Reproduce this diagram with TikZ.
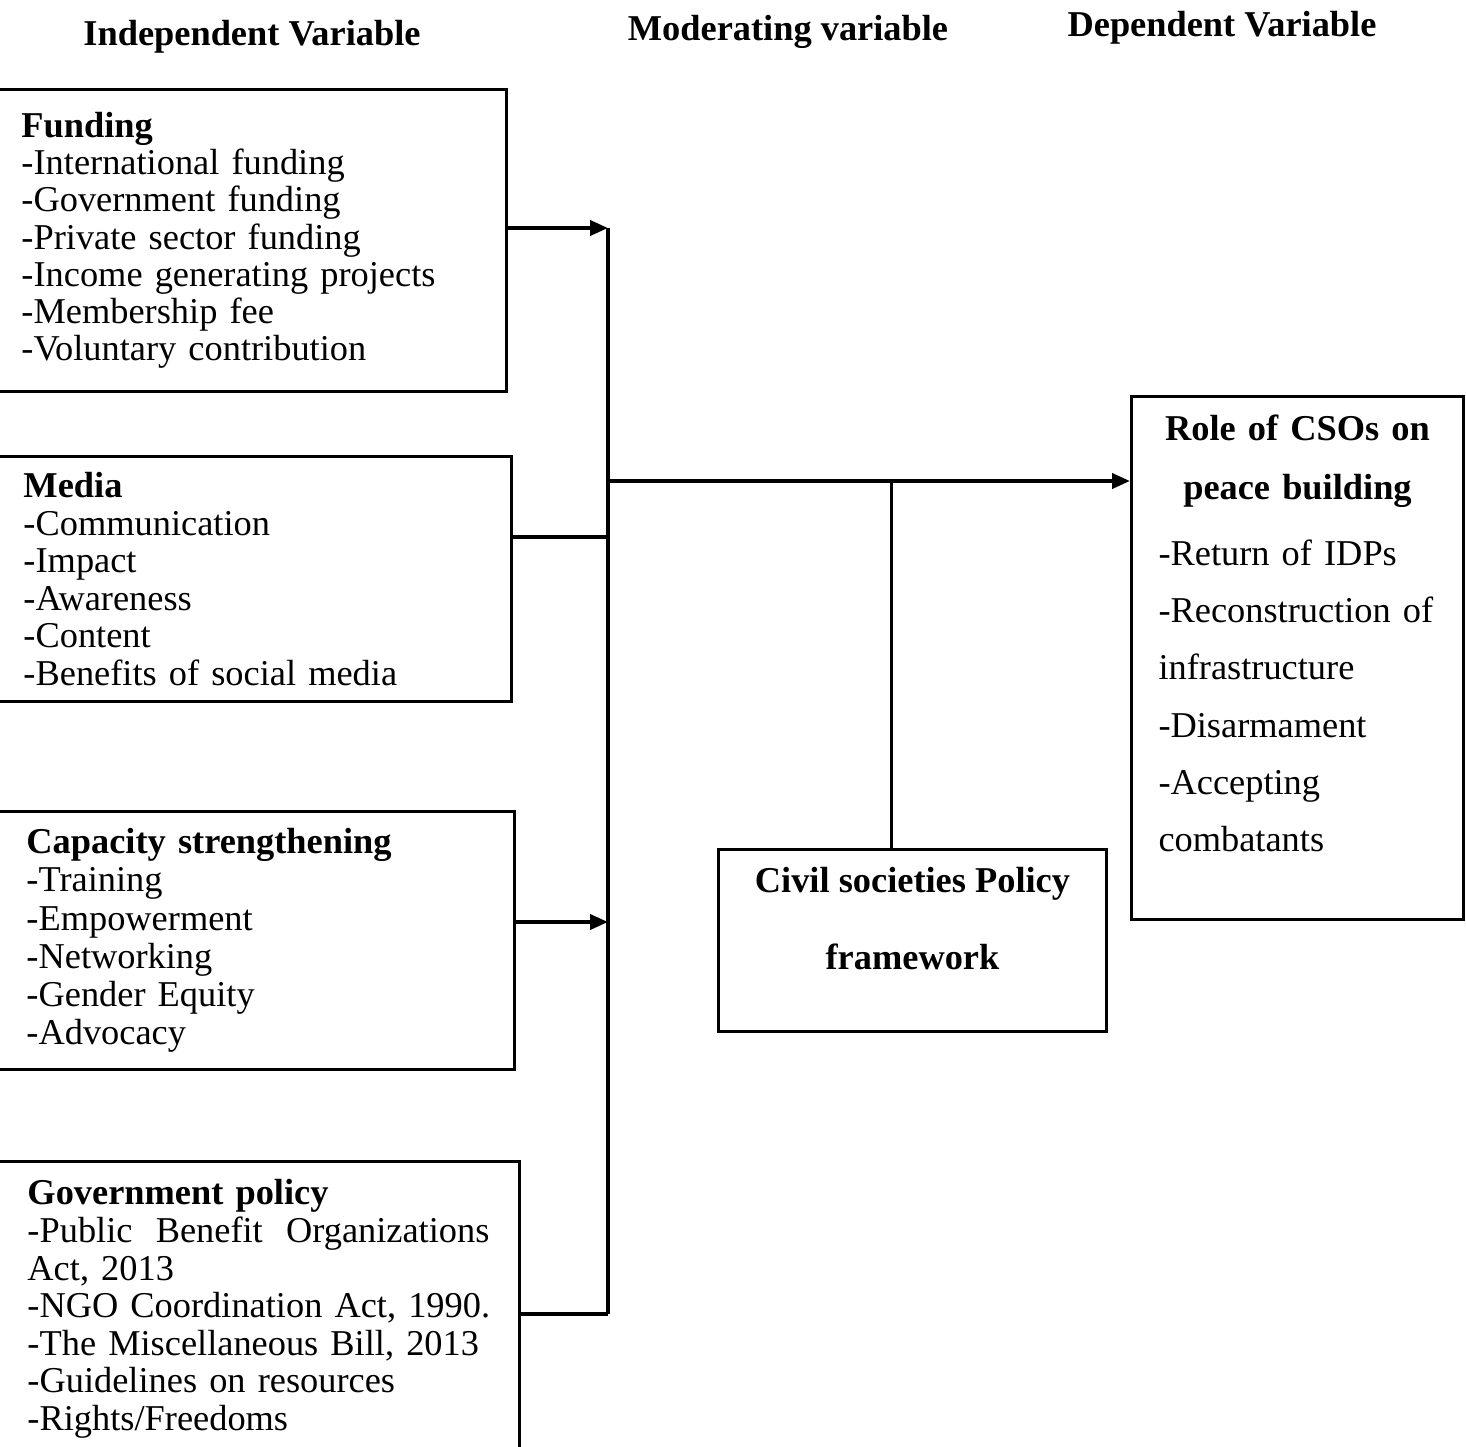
\documentclass[tikz,border=0pt]{standalone}
\usepackage{fontspec}
\setmainfont{Liberation Serif}
\usetikzlibrary{arrows.meta,positioning}
\tikzset{every node/.style={align=left}}

\begin{document}
\begin{tikzpicture}[x=0.02cm,y=-0.02cm,>={Triangle[length=0.36cm,width=0.3cm]},line width=2.2pt,
  head/.style={font=\fontsize{20.7}{24}\selectfont\bfseries,align=center},
  ivbox/.style={draw,line width=1.7pt,anchor=north west,align=left,font=\fontsize{20.7}{21.4}\selectfont}]
\clip (0,0) rectangle (1466,1446);

\node[head] (indep) at (252,37) {Independent Variable};
\node[head] (moder) at (788,32) {Moderating variable};
\node[head] (depen) at (1222,28) {Dependent Variable};

\node[ivbox,font=\fontsize{20.7}{21.2}\selectfont,minimum width=10.18cm,minimum height=6.04cm,text width=9.22cm,inner xsep=0.48cm] (fund) at (-4,88)
  {\textbf{Funding}\\-International funding\\-Government funding\\-Private sector funding\\-Income generating projects\\-Membership fee\\-Voluntary contribution};
\node[ivbox,minimum width=10.28cm,minimum height=4.9cm,text width=9.24cm,inner xsep=0.52cm] (media) at (-4,455)
  {\textbf{Media}\\-Communication\\-Impact\\-Awareness\\-Content\\-Benefits of social media};
\node[ivbox,font=\fontsize{20.7}{21.8}\selectfont,minimum width=10.34cm,minimum height=5.16cm,text width=9.18cm,inner xsep=0.58cm] (capac) at (-4,810)
  {\textbf{Capacity strengthening}\\-Training\\-Empowerment\\-Networking\\-Gender Equity\\-Advocacy};
\node[ivbox,minimum width=10.44cm,minimum height=5.9cm,text width=9.24cm,inner xsep=0.6cm] (govpol) at (-4,1160)
  {\textbf{Government policy}\\-Public\hfill Benefit\hfill Organizations\\Act, 2013\\\mbox{-NGO Coordination Act, 1990.}\\\mbox{-The Miscellaneous Bill, 2013}\\-Guidelines on resources\\-Rights/Freedoms};

% moderating and dependent variables
\node[draw,line width=1.7pt,anchor=north west,align=center,font=\fontsize{20.7}{43.7}\selectfont\bfseries,
  minimum width=7.76cm,minimum height=3.64cm] (civil) at (717,848)
  {Civil societies Policy\\ framework\\[-0.64cm]\mbox{}};
\node[draw,line width=1.7pt,anchor=north west,align=left,font=\fontsize{20.7}{32.6}\selectfont,
  text width=5.56cm,inner xsep=0.54cm,minimum width=6.64cm,minimum height=10.46cm] (role) at (1130,395)
  {\makebox[5.56cm][c]{\bfseries Role of CSOs on}\\[1pt]\makebox[5.56cm][c]{\bfseries peace building}\\[5pt]
   -Return of IDPs\\-Reconstruction of\\infrastructure\\-Disarmament\\-Accepting\\combatants\\[-0.15cm]\mbox{}};

\coordinate (bustop) at (608,228);
\coordinate (busbot) at (608,1314);
\coordinate (mediaj) at (608,537);
\coordinate (capj) at (608,922);
\coordinate (mainj) at (608,481);

\draw (bustop) -- (busbot);
\draw[->] (fund.east |- bustop) -- (bustop);
\draw (media.east |- mediaj) -- (mediaj);
\draw[->] (capac.east |- capj) -- (capj);
\draw (govpol.east |- busbot) -- (busbot);
\draw[->] (mainj) -- (mainj -| role.west);
\draw ([xshift=-0.42cm]civil.north) -- ([xshift=-0.42cm]civil.north |- mainj);

\end{tikzpicture}
\end{document}
